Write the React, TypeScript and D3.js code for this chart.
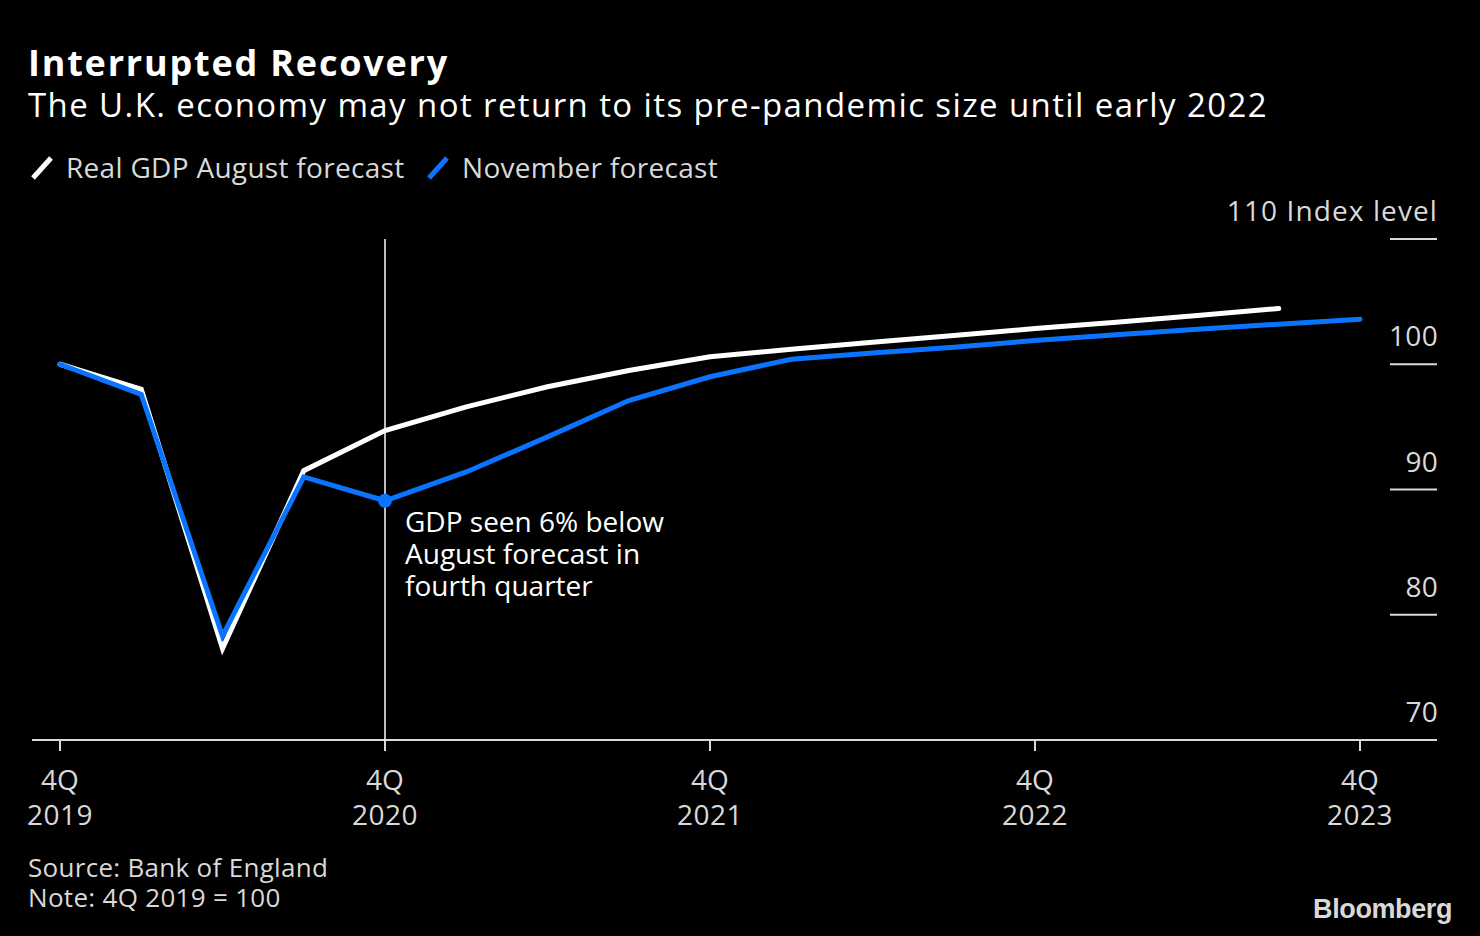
import { useEffect, useRef } from 'react';
import * as d3 from 'd3';

const quarters = [
  '4Q19', '1Q20', '2Q20', '3Q20', '4Q20', '1Q21', '2Q21', '3Q21', '4Q21',
  '1Q22', '2Q22', '3Q22', '4Q22', '1Q23', '2Q23', '3Q23', '4Q23',
];
const augustForecast = [
  100, 98.0, 77.3, 91.5, 94.7, 96.6, 98.2, 99.5, 100.6, 101.2, 101.75, 102.3, 102.85, 103.35, 103.9, 104.45,
];
const novemberForecast = [
  100, 97.6, 78.3, 91.0, 89.1, 91.4, 94.2, 97.1, 99.0, 100.4, 100.9, 101.35, 101.9, 102.35, 102.8, 103.2, 103.6,
];
const yTicks = [70, 80, 90, 100, 110];
const xTickQuarters = ['4Q19', '4Q20', '4Q21', '4Q22', '4Q23'];
const xTickYears = ['2019', '2020', '2021', '2022', '2023'];
const annotationLines = ['GDP seen 6% below', 'August forecast in', 'fourth quarter'];
const footerLines = ['Source: Bank of England', 'Note: 4Q 2019 = 100'];

const FONT = '"Open Sans", "Noto Sans", sans-serif';
const BLUE = '#0a74ff';
const GREY = '#d9d9d9';

export default function App() {
  const svgRef = useRef<SVGSVGElement>(null);

  useEffect(() => {
    if (!svgRef.current) return;
    document.body.style.margin = '0';
    const svg = d3.select(svgRef.current);
    svg.selectAll('*').remove();

    const width = 1480;
    const height = 936;
    svg.attr('width', width).attr('height', height);

    svg.append('rect').attr('width', width).attr('height', height).attr('fill', '#000');

    // Scales
    const x = d3.scaleLinear().domain([0, quarters.length - 1]).range([60, 1360]);
    const y = d3.scaleLinear().domain([70, 110]).range([740, 239]);
    const qx = (q: string) => x(quarters.indexOf(q));

    // Titles
    svg.append('text').attr('x', 28).attr('y', 76).attr('fill', '#fff')
      .attr('font-family', FONT).attr('font-weight', 700).attr('font-size', 36)
      .attr('letter-spacing', 1.8)
      .text('Interrupted Recovery');
    svg.append('text').attr('x', 28).attr('y', 117).attr('fill', '#fff')
      .attr('font-family', FONT).attr('font-size', 33).attr('letter-spacing', 1.4)
      .text('The U.K. economy may not return to its pre-pandemic size until early 2022');

    // Legend
    const legend = [
      { label: 'Real GDP August forecast', color: '#fff', x: 30 },
      { label: 'November forecast', color: BLUE, x: 426 },
    ];
    legend.forEach((l) => {
      svg.append('line').attr('x1', l.x + 3).attr('y1', 178).attr('x2', l.x + 21).attr('y2', 158)
        .attr('stroke', l.color).attr('stroke-width', 5);
      svg.append('text').attr('x', l.x + 36).attr('y', 178).attr('fill', GREY)
        .attr('font-family', FONT).attr('font-size', 28).attr('letter-spacing', 0.3).text(l.label);
    });

    // Y axis ticks (right side)
    const yAxis = svg.append('g');
    yTicks.forEach((t) => {
      if (t !== 70) {
        yAxis.append('line').attr('x1', 1390).attr('x2', 1437).attr('y1', y(t)).attr('y2', y(t))
          .attr('stroke', GREY).attr('stroke-width', 2);
      }
      yAxis.append('text').attr('x', 1438).attr('y', y(t) - 18).attr('text-anchor', 'end')
        .attr('fill', GREY).attr('font-family', FONT).attr('font-size', 28)
        .attr('letter-spacing', t === 110 ? 1.1 : 0.3)
        .text(t === 110 ? '110 Index level' : String(t));
    });

    // X axis
    svg.append('line').attr('x1', 32).attr('x2', 1437).attr('y1', y(70)).attr('y2', y(70))
      .attr('stroke', GREY).attr('stroke-width', 2);
    xTickQuarters.forEach((q, i) => {
      const xp = qx(q);
      svg.append('line').attr('x1', xp).attr('x2', xp).attr('y1', y(70)).attr('y2', y(70) + 11)
        .attr('stroke', GREY).attr('stroke-width', 2);
      svg.append('text').attr('x', xp).attr('y', 790).attr('text-anchor', 'middle')
        .attr('fill', GREY).attr('font-family', FONT).attr('font-size', 28).text('4Q');
      svg.append('text').attr('x', xp).attr('y', 825).attr('text-anchor', 'middle')
        .attr('fill', GREY).attr('font-family', FONT).attr('font-size', 28).attr('letter-spacing', 0.5)
        .text(xTickYears[i]);
    });

    // Vertical marker line at 4Q 2020
    svg.append('line').attr('x1', qx('4Q20')).attr('x2', qx('4Q20')).attr('y1', y(110)).attr('y2', y(70))
      .attr('stroke', '#fff').attr('stroke-width', 1.5);

    const line = d3.line<number>().x((_d, i) => x(i)).y((d) => y(d));

    svg.append('path').datum(augustForecast).attr('d', line).attr('fill', 'none')
      .attr('stroke', '#fff').attr('stroke-width', 5).attr('stroke-linecap', 'round');
    svg.append('path').datum(novemberForecast).attr('d', line).attr('fill', 'none')
      .attr('stroke', BLUE).attr('stroke-width', 5).attr('stroke-linecap', 'round');

    // Annotation point
    const idx = quarters.indexOf('4Q20');
    svg.append('circle').attr('cx', x(idx)).attr('cy', y(novemberForecast[idx])).attr('r', 7).attr('fill', BLUE);
    const note = svg.append('text').attr('x', 405).attr('y', 532).attr('fill', '#fff')
      .attr('font-family', FONT).attr('font-size', 28);
    annotationLines.forEach((t, i) => {
      note.append('tspan').attr('x', 405).attr('dy', i === 0 ? 0 : 32).text(t);
    });

    // Footer
    const footer = svg.append('text').attr('x', 28).attr('y', 877).attr('fill', GREY)
      .attr('font-family', FONT).attr('font-size', 26).attr('letter-spacing', 0.3);
    footerLines.forEach((t, i) => {
      footer.append('tspan').attr('x', 28).attr('dy', i === 0 ? 0 : 30).text(t);
    });
    svg.append('text').attr('x', 1452).attr('y', 918).attr('text-anchor', 'end').attr('fill', GREY)
      .attr('font-family', '"Liberation Sans", Arial, sans-serif').attr('font-weight', 700)
      .attr('font-size', 27).attr('letter-spacing', -0.4).text('Bloomberg');
  }, []);

  return <svg ref={svgRef} style={{ display: 'block' }} />;
}
